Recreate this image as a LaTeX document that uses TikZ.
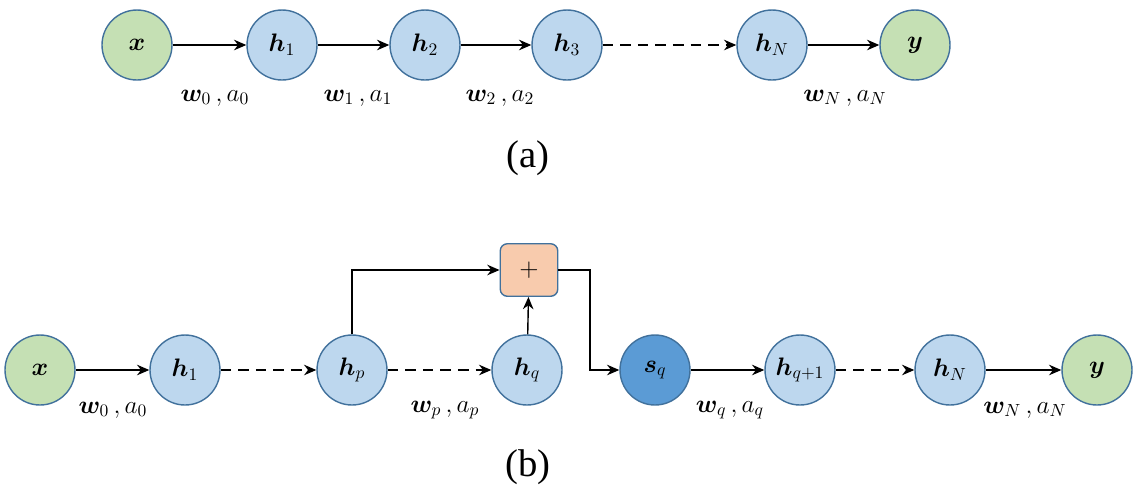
\documentclass[tikz,border=0pt]{standalone}
\usepackage{amsmath,bm}
\usepackage{fontspec}
\setmainfont{Liberation Serif}
\usetikzlibrary{arrows.meta}
\definecolor{gfill}{HTML}{C5E0B4}
\definecolor{bfill}{HTML}{BDD7EE}
\definecolor{dfill}{HTML}{5B9BD5}
\definecolor{edge}{HTML}{41719C}
\definecolor{pfill}{HTML}{F8CBAD}
\begin{document}
\begin{tikzpicture}[x=0.02cm,y=-0.02cm,
  nd/.style={circle,draw=edge,thick,minimum size=1.4cm,inner sep=0pt,font=\Large},
  g/.style={nd,fill=gfill},
  b/.style={nd,fill=bfill},
  d/.style={nd,fill=dfill},
  ar/.style={-{Stealth[length=7pt,width=6pt]},thick},
  da/.style={ar,dashed,dash pattern=on 6pt off 4pt},
  lb/.style={font=\Large}]
\useasboundingbox (0,0) rectangle (1140,501);
% (a)
\node[g] (ax) at (137,45) {$\bm{x}$};
\node[b] (a1) at (282,45) {$\bm{h}_1$};
\node[b] (a2) at (425,45) {$\bm{h}_2$};
\node[b] (a3) at (567,45) {$\bm{h}_3$};
\node[b] (aN) at (772,45) {$\bm{h}_N$};
\node[g] (ay) at (915,45) {$\bm{y}$};
\draw[ar] (ax)--(a1); \draw[ar] (a1)--(a2); \draw[ar] (a2)--(a3);
\draw[da] (a3)--(aN); \draw[ar] (aN)--(ay);
\node[lb] (l0) at (215,98) {$\bm{w}_0\,,a_0$};
\node[lb] (l1) at (358,98) {$\bm{w}_1\,,a_1$};
\node[lb] (l2) at (500,98) {$\bm{w}_2\,,a_2$};
\node[lb] (lN) at (845,98) {$\bm{w}_N\,,a_N$};
\node[font=\fontsize{22}{24}\selectfont] (ta) at (528,158) {(a)};
% (b)
\node[g] (bx) at (40,370) {$\bm{x}$};
\node[b] (b1) at (185,370) {$\bm{h}_1$};
\node[b] (bp) at (352,370) {$\bm{h}_p$};
\node[b] (bq) at (527,370) {$\bm{h}_q$};
\node[d] (bs) at (655,370) {$\bm{s}_q$};
\node[b] (bq1) at (800,370) {$\bm{h}_{q+1}$};
\node[b] (bN) at (950,370) {$\bm{h}_N$};
\node[g] (by) at (1097,370) {$\bm{y}$};
\node[draw=edge,thick,fill=pfill,rounded corners=4pt,minimum width=1.15cm,minimum height=1.05cm,font=\Large] (plus) at (529,270) {$+$};
\coordinate (c1) at (590,270);
\coordinate (c2) at (590,370);
\draw[ar] (bx)--(b1); \draw[da] (b1)--(bp); \draw[da] (bp)--(bq);
\draw[ar] (bs)--(bq1); \draw[da] (bq1)--(bN); \draw[ar] (bN)--(by);
\draw[ar] (bq)--(plus);
\draw[ar] (bp.north) |- (plus.west);
\draw[ar] (plus.east) -- (c1) -- (c2) -- (bs.west);
\node[lb] (m0) at (113,410) {$\bm{w}_0\,,a_0$};
\node[lb] (mp) at (445,410) {$\bm{w}_p\,,a_p$};
\node[lb] (mq) at (730,410) {$\bm{w}_q\,,a_q$};
\node[lb] (mN) at (1025,410) {$\bm{w}_N\,,a_N$};
\node[font=\fontsize{22}{24}\selectfont] (tb) at (528,467) {(b)};
\end{tikzpicture}
\end{document}
